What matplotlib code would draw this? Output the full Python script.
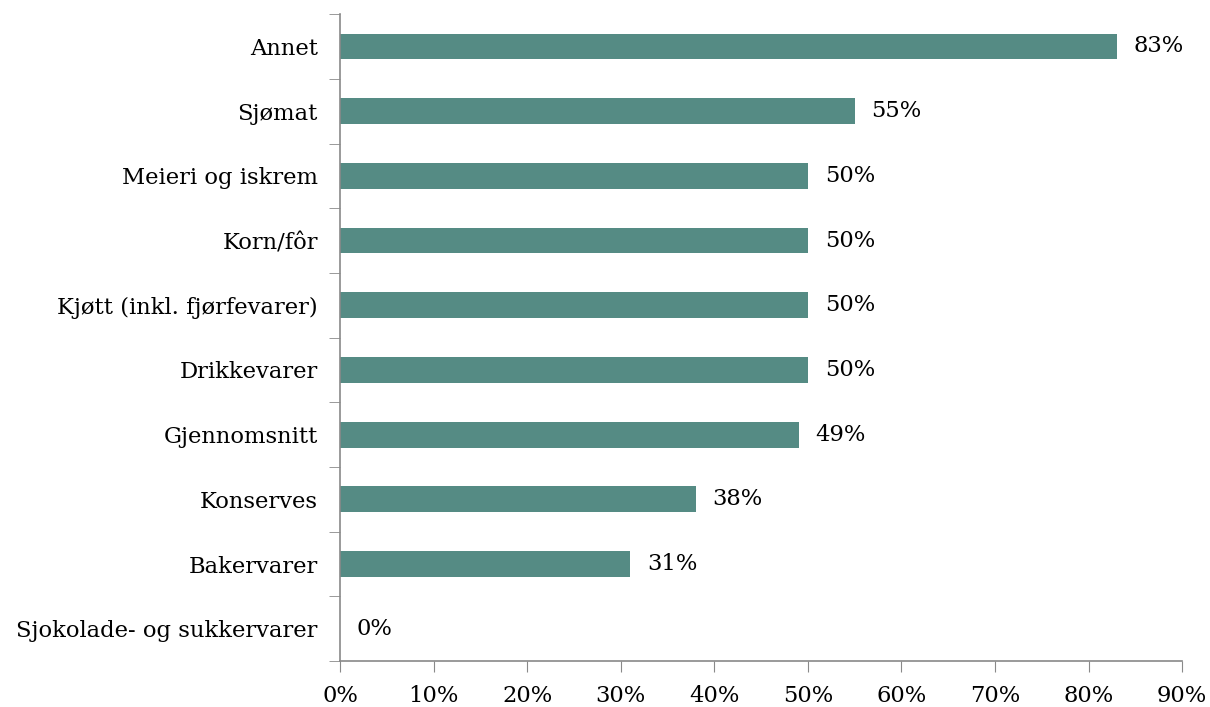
import matplotlib.pyplot as plt
from matplotlib.ticker import FixedLocator, FuncFormatter

categories = ['Annet', 'Sjømat', 'Meieri og iskrem', 'Korn/fôr',
              'Kjøtt (inkl. fjørfevarer)', 'Drikkevarer', 'Gjennomsnitt',
              'Konserves', 'Bakervarer', 'Sjokolade- og sukkervarer']
shares = [83, 55, 50, 50, 50, 50, 49, 38, 31, 0]
xticks = [0, 10, 20, 30, 40, 50, 60, 70, 80, 90]

plt.rcParams['font.family'] = ['DejaVu Serif']
fs = 16.3
fig = plt.figure(figsize=(12.1, 7.07), dpi=100)
ax = fig.add_axes([0.281, 0.065, 0.696, 0.915])

pos = list(range(len(categories)))
ax.barh(pos, shares, height=0.4, color='#558b84')
for y, v in zip(pos, shares):
    ax.text(v + 1.8, y, f'{v}%', va='center', ha='left', fontsize=fs, color='black')

ax.set_ylim(len(categories) - 0.5, -0.5)
ax.set_xlim(0, 90)
ax.set_yticks(pos)
ax.set_yticklabels(categories, fontsize=fs)
ax.yaxis.set_minor_locator(FixedLocator([p - 0.5 for p in range(len(categories) + 1)]))
ax.tick_params(axis='y', which='major', length=0, pad=16)
ax.tick_params(axis='y', which='minor', length=8, color='#898989', direction='out')

ax.set_xticks(xticks)
ax.xaxis.set_major_formatter(FuncFormatter(lambda v, p: f'{int(v)}%'))
ax.tick_params(axis='x', length=8, color='#898989', labelsize=fs, pad=9)

for s in ['top', 'right']:
    ax.spines[s].set_visible(False)
for s in ['left', 'bottom']:
    ax.spines[s].set_color('#898989')
    ax.spines[s].set_linewidth(1.2)

fig.savefig('out.png', dpi=100)
